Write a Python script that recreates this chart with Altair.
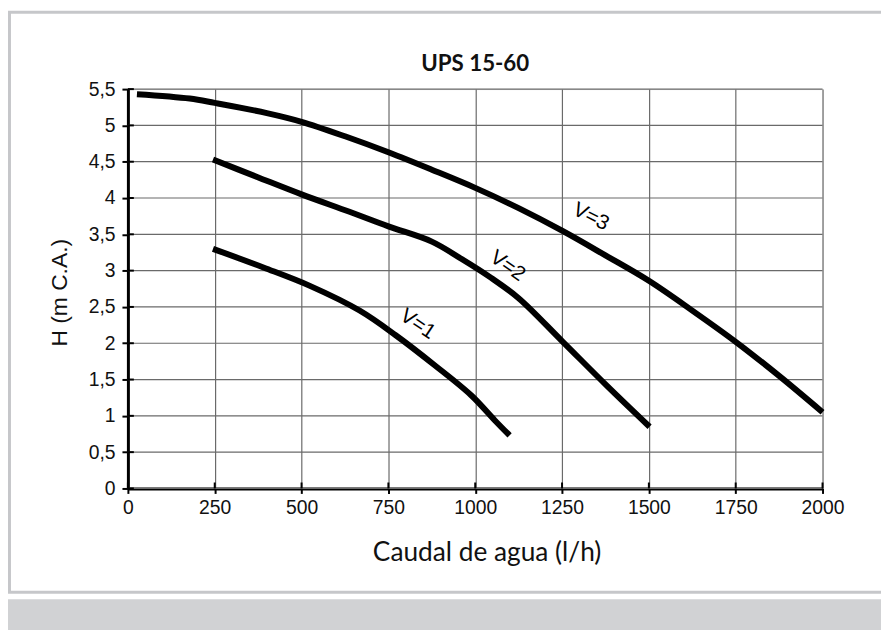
import altair as alt
import pandas as pd

# Curve data (Caudal l/h, H m C.A.)
q_v3 = [26, 178, 250, 400, 500, 625, 750, 875, 1000, 1125, 1250, 1375, 1500, 1625, 1750, 1875, 2000]
h_v3 = [5.43, 5.37, 5.31, 5.17, 5.05, 4.85, 4.63, 4.39, 4.14, 3.86, 3.55, 3.21, 2.86, 2.45, 2.02, 1.55, 1.05]
q_v2 = [245, 372, 500, 638, 750, 875, 961, 1046, 1125, 1250, 1378, 1502]
h_v2 = [4.53, 4.29, 4.05, 3.81, 3.61, 3.40, 3.16, 2.90, 2.62, 2.03, 1.42, 0.85]
q_v1 = [245, 392, 524, 667, 771, 885, 989, 1056, 1099]
h_v1 = [3.30, 3.04, 2.79, 2.45, 2.11, 1.69, 1.28, 0.94, 0.73]

label_text = ["V=3", "V=2", "V=1"]
label_q = [1333, 1093, 834]
label_h = [3.74, 3.06, 2.26]
label_angle = [27, 35, 34]

chart_title = "UPS 15-60"
x_ticks = [0, 250, 500, 750, 1000, 1250, 1500, 1750, 2000]
y_ticks = [0, 0.5, 1, 1.5, 2, 2.5, 3, 3.5, 4, 4.5, 5, 5.5]

rows = []
for name, qs, hs in [("V=3", q_v3, h_v3), ("V=2", q_v2, h_v2), ("V=1", q_v1, h_v1)]:
    for q, h in zip(qs, hs):
        rows.append({"serie": name, "q": q, "h": h})
df = pd.DataFrame(rows)
labels = pd.DataFrame({"t": label_text, "q": label_q, "h": label_h, "a": label_angle})
yt = pd.DataFrame({"h": y_ticks})
xt = pd.DataFrame({"q": x_ticks})
one = pd.DataFrame({"k": [0]})
ttl = pd.DataFrame({"t": [chart_title]})

FONT = "Liberation Sans"
GRID = "#6a6a6a"

xscale = alt.Scale(domain=[0, 2000], nice=False)
yscale = alt.Scale(domain=[0, 5.5], nice=False)

xaxis = alt.Axis(
    values=x_ticks, title="Caudal de agua (l/h)", titleFont="Lato", titleFontSize=26.5,
    titleFontWeight="normal", titleColor="#111", titleX=362, titleY=73, titleAlign="center",
    titleBaseline="alphabetic",
    labelFont=FONT, labelFontSize=19.5, labelColor="#111", labelPadding=5,
    labelExpr="'' + datum.value", labelOverlap=False,
    domainColor="black", domainWidth=3, tickColor="black", tickWidth=2, tickSize=5,
    grid=True, gridColor=GRID, gridWidth=1.2, labelFlush=False,
)
yaxis = alt.Axis(
    values=y_ticks, title="H (m C.A.)", titleFont=FONT, titleFontSize=23,
    titleFontWeight="normal", titleColor="#111", titleX=-69, titleY=205, titleAlign="center",
    titleBaseline="middle", titleAngle=270,
    labelFont=FONT, labelFontSize=19.5, labelColor="#111", labelPadding=7,
    labelExpr="replace(format(datum.value, '.1~f'), '.', ',')", labelOverlap=False,
    domainColor="black", domainWidth=3, tickColor="black", tickWidth=2, tickSize=6,
    grid=False, labelFlush=False,
)

X = dict(scale=xscale, axis=xaxis)
Y = dict(scale=yscale, axis=yaxis)

# horizontal grid lines at every y tick
ygrid = alt.Chart(yt).mark_rule(color=GRID, strokeWidth=1.2).encode(
    y=alt.Y("h:Q", **Y), x=alt.value(0), x2=alt.value(701))

lines = alt.Chart(df).mark_line(color="black", strokeWidth=6, interpolate="catmull-rom", strokeCap="butt").encode(
    x=alt.X("q:Q", **X),
    y=alt.Y("h:Q", **Y),
    detail="serie:N",
)

texts = alt.Chart(labels).mark_text(font=FONT, fontSize=21, color="black",
                                     align="center", baseline="middle").encode(
    x=alt.X("q:Q", **X),
    y=alt.Y("h:Q", **Y),
    text="t:N",
    angle=alt.Angle("a:Q", scale=None),
)

title_mark = alt.Chart(ttl).mark_text(font="Lato", fontSize=22.5, fontWeight="bold", color="#111",
                                      align="center", baseline="middle", clip=False).encode(
    text="t:N", x=alt.value(350.5), y=alt.value(-25))

# inner half of the crossing tick marks
ytick_in = alt.Chart(yt).mark_rule(color="black", strokeWidth=2).encode(
    y=alt.Y("h:Q", **Y), x=alt.value(0), x2=alt.value(6))
xtick_in = alt.Chart(xt).mark_rule(color="black", strokeWidth=2).encode(
    x=alt.X("q:Q", **X), y=alt.value(403), y2=alt.value(397))

frame = alt.Chart(one).mark_rect(filled=False, stroke="#c6c7ca", strokeWidth=3, clip=False).encode(
    x=alt.value(-119.5), x2=alt.value(900), y=alt.value(-77.5), y2=alt.value(507.7))
band = alt.Chart(one).mark_rect(fill="#d1d2d4", clip=False).encode(
    x=alt.value(-125), x2=alt.value(900), y=alt.value(514.7), y2=alt.value(560))

chart = alt.layer(frame, band, ygrid, lines, texts, title_mark, ytick_in, xtick_in).properties(
    width=701, height=403,
    autosize=alt.AutoSizeParams(type="none"),
    padding={"left": 121, "top": 79, "right": 59, "bottom": 140},
).configure_view(stroke="#8a8a8a", strokeWidth=1.5).configure(background="white")

chart.save("out.html", embed_options={"renderer": "svg", "actions": False})
